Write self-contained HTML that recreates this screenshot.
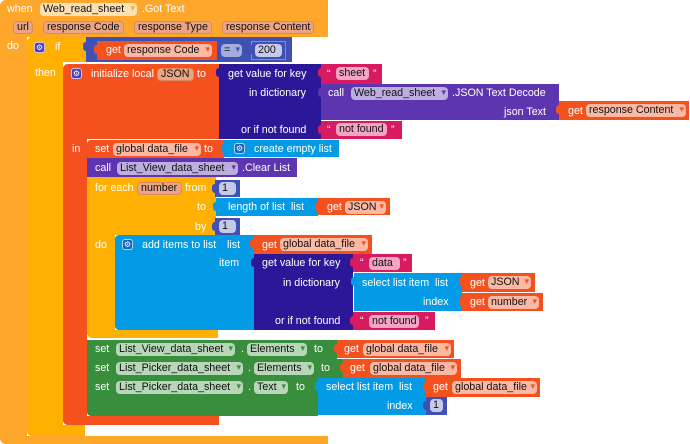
<!DOCTYPE html>
<html><head><meta charset="utf-8">
<style>
html,body{margin:0;padding:0;background:#fff;}
body{width:690px;height:444px;position:relative;overflow:hidden;font-family:"Liberation Sans",Arial,sans-serif;}
.b{position:absolute;}
.t{position:absolute;color:#fff;font-size:10.7px;line-height:14px;white-space:nowrap;}
.f{position:absolute;height:13px;border-radius:4px;font-size:10.7px;line-height:13px;color:#111;padding-left:3px;box-sizing:border-box;white-space:nowrap;overflow:hidden;}
.a{position:absolute;right:2px;top:0;font-family:"DejaVu Sans",sans-serif;font-size:9px;line-height:13px;}
.g{position:absolute;width:11px;height:11px;border-radius:3px;box-sizing:border-box;border:1px solid rgba(255,255,255,.7);color:#fff;font-family:"DejaVu Sans",sans-serif;font-size:8px;line-height:9px;text-align:center;}
.ev{background:#FFA72B}.if{background:#FFB000}.va{background:#F4511E}.ma{background:#3F51B5}.di{background:#2D1799}.tx{background:#D81B60}.co{background:#5E35B1}.li{background:#039BE5}.se{background:#388E3C}
.fo{background:#FBB9A4}.fn{background:#EBA585;border:1px solid #D98A60;line-height:11px}.fc{background:#BDAEE0}.fs{background:#B7D7B8}.ft{background:#F3A6C3}.fm{background:#C5CAE9}
.tab{position:absolute;width:4px;height:9px;border-radius:3px 0 0 3px;}
</style></head><body>

<!-- outer event -->
<div class="b ev" style="left:0;top:0;width:328px;height:37px;border-radius:6px 0 0 0"></div>
<div class="b ev" style="left:0;top:0;width:27px;height:444px;border-radius:6px 0 0 6px"></div>
<div class="b ev" style="left:0;top:436px;width:328px;height:8px;border-radius:0 0 0 6px"></div>
<div class="t" style="left:7px;top:2px">when</div>
<div class="f" style="left:40px;top:3px;width:97px;background:#FEE1B2">Web_read_sheet<span class="a" style="color:#FFA72B">▾</span></div>
<div class="t" style="left:142px;top:2px">.Got Text</div>
<div class="f fn" style="left:13px;top:21px;width:20px">url</div>
<div class="f fn" style="left:43px;top:21px;width:81px">response Code</div>
<div class="f fn" style="left:134px;top:21px;width:78px">response Type</div>
<div class="f fn" style="left:222px;top:21px;width:92px">response Content</div>
<div class="t" style="left:7px;top:39px">do</div>

<!-- if block -->
<div class="b if" style="left:27px;top:37px;width:60px;height:25px;border-radius:5px 0 0 0"></div>
<div class="b if" style="left:27px;top:37px;width:36px;height:399px;border-radius:5px 0 0 5px"></div>
<div class="b if" style="left:27px;top:425px;width:58px;height:11px;border-radius:0 0 0 5px"></div>
<div class="g" style="left:34px;top:42px;background:#4B3DB8">⚙</div>
<div class="t" style="left:55px;top:40px">if</div>
<div class="t" style="left:35px;top:66px">then</div>

<!-- condition -->
<div class="b ma" style="left:86px;top:37px;width:206px;height:25px"></div>
<div class="tab ma" style="left:83px;top:42px"></div>
<div class="b va" style="left:97px;top:41px;width:120px;height:19px"></div>
<div class="tab va" style="left:94px;top:45px"></div>
<div class="t" style="left:106px;top:43px">get</div>
<div class="f fo" style="left:124px;top:44px;width:88px">response Code<span class="a" style="color:#F4511E">▾</span></div>
<div class="f" style="left:221px;top:44px;width:21px;background:#A3ACDD">=<span class="a" style="color:#3F51B5">▾</span></div>
<div class="b ma" style="left:251px;top:41px;width:35px;height:19px;box-shadow:inset 0 0 0 1px rgba(255,255,255,.35)"></div>
<div class="tab ma" style="left:248px;top:45px"></div>
<div class="f fm" style="left:255px;top:44px;width:27px">200</div>

<!-- init local -->
<div class="b va" style="left:63px;top:64px;width:156px;height:75px;border-radius:5px 0 0 0"></div>
<div class="b va" style="left:63px;top:64px;width:24px;height:361px;border-radius:5px 0 0 5px"></div>
<div class="b va" style="left:63px;top:416px;width:156px;height:9px;border-radius:0 0 0 5px"></div>
<div class="g" style="left:71px;top:68px;background:#4B3DB8">⚙</div>
<div class="t" style="left:91px;top:67px">initialize local</div>
<div class="f fn" style="left:157px;top:68px;width:37px">JSON</div>
<div class="t" style="left:197px;top:67px">to</div>
<div class="t" style="left:72px;top:142px">in</div>

<!-- dict 1 -->
<div class="b di" style="left:219px;top:64px;width:102px;height:75px"></div>
<div class="tab di" style="left:216px;top:68px"></div>
<div class="t" style="left:228px;top:67px">get value for key</div>
<div class="t" style="left:249px;top:86px">in dictionary</div>
<div class="t" style="left:241px;top:123px">or if not found</div>
<div class="b tx" style="left:321px;top:64px;width:61px;height:20px"></div>
<div class="tab tx" style="left:318px;top:68px"></div>
<div class="t" style="left:327px;top:67px">“</div>
<div class="f ft" style="left:336px;top:67px;width:33px">sheet</div>
<div class="t" style="left:373px;top:67px">”</div>
<div class="b co" style="left:321px;top:84px;width:238px;height:36px"></div>
<div class="tab co" style="left:318px;top:88px"></div>
<div class="t" style="left:328px;top:86px">call</div>
<div class="f fc" style="left:351px;top:87px;width:97px">Web_read_sheet<span class="a" style="color:#5E35B1">▾</span></div>
<div class="t" style="left:452px;top:86px">.JSON Text Decode</div>
<div class="t" style="left:504px;top:105px">json Text</div>
<div class="b va" style="left:559px;top:101px;width:130px;height:19px"></div>
<div class="tab va" style="left:556px;top:105px"></div>
<div class="t" style="left:568px;top:104px">get</div>
<div class="f fo" style="left:586px;top:104px;width:100px">response Content<span class="a" style="color:#F4511E">▾</span></div>
<div class="b tx" style="left:321px;top:121px;width:81px;height:18px"></div>
<div class="tab tx" style="left:318px;top:125px"></div>
<div class="t" style="left:327px;top:123px">“</div>
<div class="f ft" style="left:336px;top:123px;width:51px">not found</div>
<div class="t" style="left:391px;top:123px">”</div>

<!-- set global -->
<div class="b va" style="left:87px;top:140px;width:137px;height:18px;border-radius:4px 0 0 0"></div>
<div class="t" style="left:95px;top:142px">set</div>
<div class="f fo" style="left:113px;top:143px;width:88px">global data_file<span class="a" style="color:#F4511E">▾</span></div>
<div class="t" style="left:204px;top:142px">to</div>
<div class="b li" style="left:224px;top:140px;width:115px;height:17px"></div>
<div class="tab li" style="left:221px;top:144px"></div>
<div class="g" style="left:234px;top:143px;background:#1565C0">⚙</div>
<div class="t" style="left:254px;top:142px">create empty list</div>

<!-- call clear -->
<div class="b co" style="left:87px;top:158px;width:210px;height:19px"></div>
<div class="t" style="left:95px;top:161px">call</div>
<div class="f fc" style="left:117px;top:162px;width:121px">List_View_data_sheet<span class="a" style="color:#5E35B1">▾</span></div>
<div class="t" style="left:242px;top:161px">.Clear List</div>

<!-- for each -->
<div class="b if" style="left:87px;top:177px;width:129px;height:58px"></div>
<div class="b if" style="left:87px;top:177px;width:28px;height:161px;border-radius:0 0 0 5px"></div>
<div class="b if" style="left:87px;top:330px;width:131px;height:8px;border-radius:0 0 0 5px"></div>
<div class="t" style="left:95px;top:181px">for each</div>
<div class="f fn" style="left:137px;top:182px;width:45px">number</div>
<div class="t" style="left:185px;top:181px">from</div>
<div class="b ma" style="left:215px;top:180px;width:25px;height:17px"></div>
<div class="tab ma" style="left:212px;top:184px"></div>
<div class="f fm" style="left:219px;top:182px;width:17px">1</div>
<div class="t" style="left:197px;top:200px">to</div>
<div class="b li" style="left:216px;top:198px;width:102px;height:18px"></div>
<div class="tab li" style="left:213px;top:202px"></div>
<div class="t" style="left:228px;top:200px">length of list&nbsp; list</div>
<div class="b va" style="left:318px;top:198px;width:72px;height:17px"></div>
<div class="tab va" style="left:315px;top:202px"></div>
<div class="t" style="left:327px;top:200px">get</div>
<div class="f fo" style="left:345px;top:201px;width:41px">JSON<span class="a" style="color:#F4511E">▾</span></div>
<div class="t" style="left:195px;top:220px">by</div>
<div class="b ma" style="left:215px;top:218px;width:25px;height:18px"></div>
<div class="tab ma" style="left:212px;top:222px"></div>
<div class="f fm" style="left:219px;top:220px;width:17px">1</div>
<div class="t" style="left:95px;top:238px">do</div>

<!-- add items -->
<div class="b li" style="left:115px;top:235px;width:139px;height:95px;border-radius:4px 0 0 4px"></div>
<div class="g" style="left:122px;top:239px;background:#1565C0">⚙</div>
<div class="t" style="left:142px;top:238px">add items to list</div>
<div class="t" style="left:227px;top:238px">list</div>
<div class="b va" style="left:253px;top:235px;width:119px;height:19px"></div>
<div class="tab va" style="left:250px;top:239px"></div>
<div class="t" style="left:262px;top:238px">get</div>
<div class="f fo" style="left:280px;top:238px;width:88px">global data_file<span class="a" style="color:#F4511E">▾</span></div>
<div class="t" style="left:219px;top:256px">item</div>
<div class="b di" style="left:254px;top:254px;width:99px;height:76px"></div>
<div class="tab di" style="left:251px;top:258px"></div>
<div class="t" style="left:262px;top:256px">get value for key</div>
<div class="t" style="left:283px;top:276px">in dictionary</div>
<div class="t" style="left:275px;top:314px">or if not found</div>
<div class="b tx" style="left:353px;top:254px;width:59px;height:18px"></div>
<div class="tab tx" style="left:350px;top:258px"></div>
<div class="t" style="left:360px;top:256px">“</div>
<div class="f ft" style="left:369px;top:257px;width:31px">data</div>
<div class="t" style="left:403px;top:256px">”</div>
<div class="b li" style="left:354px;top:273px;width:108px;height:38px"></div>
<div class="tab li" style="left:351px;top:277px"></div>
<div class="t" style="left:362px;top:276px">select list item&nbsp; list</div>
<div class="t" style="left:423px;top:295px">index</div>
<div class="b va" style="left:462px;top:273px;width:73px;height:19px"></div>
<div class="tab va" style="left:459px;top:277px"></div>
<div class="t" style="left:470px;top:276px">get</div>
<div class="f fo" style="left:488px;top:276px;width:43px">JSON<span class="a" style="color:#F4511E">▾</span></div>
<div class="b va" style="left:462px;top:293px;width:81px;height:18px"></div>
<div class="tab va" style="left:459px;top:297px"></div>
<div class="t" style="left:470px;top:295px">get</div>
<div class="f fo" style="left:488px;top:296px;width:51px">number<span class="a" style="color:#F4511E">▾</span></div>
<div class="b tx" style="left:353px;top:312px;width:82px;height:18px"></div>
<div class="tab tx" style="left:350px;top:316px"></div>
<div class="t" style="left:360px;top:314px">“</div>
<div class="f ft" style="left:369px;top:315px;width:50px">not found</div>
<div class="t" style="left:425px;top:314px">”</div>

<!-- green set 1 -->
<div class="b se" style="left:87px;top:340px;width:250px;height:19px"></div>
<div class="t" style="left:95px;top:342px">set</div>
<div class="f fs" style="left:116px;top:343px;width:119px">List_View_data_sheet<span class="a" style="color:#388E3C">▾</span></div>
<div class="t" style="left:241px;top:342px">.</div>
<div class="f fs" style="left:247px;top:343px;width:60px">Elements<span class="a" style="color:#388E3C">▾</span></div>
<div class="t" style="left:314px;top:342px">to</div>
<div class="b va" style="left:337px;top:340px;width:117px;height:18px"></div>
<div class="tab va" style="left:334px;top:344px"></div>
<div class="t" style="left:344px;top:342px">get</div>
<div class="f fo" style="left:363px;top:343px;width:88px">global data_file<span class="a" style="color:#F4511E">▾</span></div>

<!-- green set 2 -->
<div class="b se" style="left:87px;top:359px;width:256px;height:19px"></div>
<div class="t" style="left:95px;top:361px">set</div>
<div class="f fs" style="left:116px;top:362px;width:127px">List_Picker_data_sheet<span class="a" style="color:#388E3C">▾</span></div>
<div class="t" style="left:248px;top:361px">.</div>
<div class="f fs" style="left:254px;top:362px;width:60px">Elements<span class="a" style="color:#388E3C">▾</span></div>
<div class="t" style="left:321px;top:361px">to</div>
<div class="b va" style="left:343px;top:359px;width:118px;height:19px"></div>
<div class="tab va" style="left:340px;top:363px"></div>
<div class="t" style="left:350px;top:361px">get</div>
<div class="f fo" style="left:370px;top:362px;width:87px">global data_file<span class="a" style="color:#F4511E">▾</span></div>

<!-- green set 3 -->
<div class="b se" style="left:87px;top:378px;width:231px;height:38px;border-radius:0 0 0 4px"></div>
<div class="t" style="left:95px;top:380px">set</div>
<div class="f fs" style="left:116px;top:381px;width:127px">List_Picker_data_sheet<span class="a" style="color:#388E3C">▾</span></div>
<div class="t" style="left:248px;top:380px">.</div>
<div class="f fs" style="left:254px;top:381px;width:34px">Text<span class="a" style="color:#388E3C">▾</span></div>
<div class="t" style="left:296px;top:380px">to</div>
<div class="b li" style="left:318px;top:378px;width:108px;height:37px"></div>
<div class="tab li" style="left:315px;top:382px"></div>
<div class="t" style="left:326px;top:380px">select list item&nbsp; list</div>
<div class="t" style="left:387px;top:399px">index</div>
<div class="b va" style="left:426px;top:378px;width:114px;height:19px"></div>
<div class="tab va" style="left:423px;top:382px"></div>
<div class="t" style="left:433px;top:380px">get</div>
<div class="f fo" style="left:452px;top:381px;width:85px">global data_file<span class="a" style="color:#F4511E">▾</span></div>
<div class="b ma" style="left:426px;top:397px;width:21px;height:18px"></div>
<div class="tab ma" style="left:423px;top:401px"></div>
<div class="f fm" style="left:430px;top:399px;width:13px">1</div>

</body></html>
